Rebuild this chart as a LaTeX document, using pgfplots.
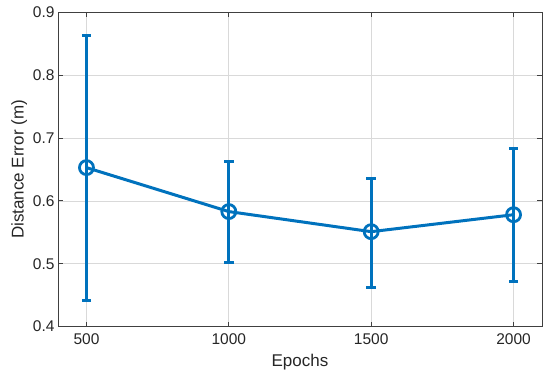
\documentclass[border=0pt]{standalone}
\usepackage{pgfplots}
\pgfplotsset{compat=1.18}
\usepackage{fontspec}
\setmainfont{Liberation Sans}
\definecolor{mblue}{RGB}{0,114,189}
\begin{document}
\begin{tikzpicture}
\begin{axis}[
  scale only axis,
  width=484pt, height=314pt,
  xmin=400, xmax=2100, ymin=0.4, ymax=0.9,
  xtick={500,1000,1500,2000},
  ytick={0.4,0.5,0.6,0.7,0.8,0.9},
  xticklabel style={yshift=-4pt, /pgf/number format/1000 sep={}},
  yticklabel style={/pgf/number format/.cd,fixed,fixed zerofill,precision=1},
  /pgf/number format/assume math mode=true,
  ticklabel style={font=\fontsize{15.5}{18}\selectfont, text=black!85},
  label style={font=\fontsize{17}{20}\selectfont, text=black!85},
  xlabel={Epochs}, ylabel={Distance Error (m)},
  xlabel style={yshift=-2pt},
  ylabel style={yshift=-1pt},
  tick align=inside, tick pos=both,
  major tick length=5pt,
  axis line style={black!75, line width=0.8pt},
  every tick/.style={black!75, line width=0.8pt},
  grid=major,
  major grid style={black!15, line width=0.7pt},
]
\addplot[color=mblue, line width=3pt, mark=o, mark size=7pt,
  mark options={line width=2.8pt},
  error bars/.cd, y dir=both, y explicit,
  error bar style={line width=3pt, color=mblue},
  error mark options={line width=3pt, mark size=4.7pt, color=mblue, rotate=90}]
coordinates {
  (500,0.653) += (0,0.211) -= (0,0.212)
  (1000,0.583) += (0,0.079) -= (0,0.081)
  (1500,0.551) += (0,0.085) -= (0,0.089)
  (2000,0.578) += (0,0.105) -= (0,0.106)
};
\end{axis}
\path ([xshift=-58pt,yshift=-50.3pt]current axis.south west) rectangle ([xshift=8pt,yshift=12.5pt]current axis.north east);
\end{tikzpicture}
\end{document}
